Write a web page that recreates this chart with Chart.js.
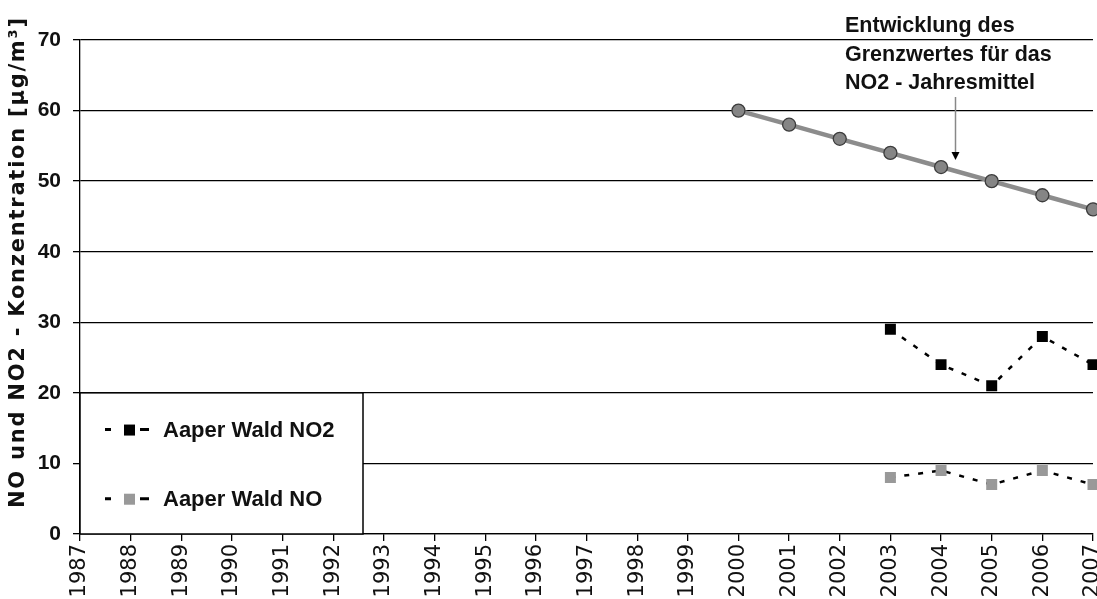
<!DOCTYPE html>
<html><head><meta charset="utf-8">
<script src="https://cdn.jsdelivr.net/npm/chart.js@4.4.1/dist/chart.umd.min.js"></script>
<style>html,body{margin:0;padding:0;background:#fff}#wrap{width:1097px;height:599px}</style>
</head><body><div id="wrap"><canvas id="c" width="1097" height="599"></canvas></div>
<script>
const years = ['1987','1988','1989','1990','1991','1992','1993','1994','1995','1996','1997','1998','1999','2000','2001','2002','2003','2004','2005','2006','2007'];
const limitNO2 = [null,null,null,null,null,null,null,null,null,null,null,null,null,60,58,56,54,52,50,48,46];
const aaperNO2 = [null,null,null,null,null,null,null,null,null,null,null,null,null,null,null,null,29,24,21,28,24];
const aaperNO  = [null,null,null,null,null,null,null,null,null,null,null,null,null,null,null,null,8,9,7,9,7];
const yTicks = [0,10,20,30,40,50,60,70];
const yTitle = 'NO und NO2 - Konzentration [µg/m³]';
const annotation = ['Entwicklung des', 'Grenzwertes für das', 'NO2 - Jahresmittel'];
const FONT = "'Liberation Sans', Arial, sans-serif";
const WIDE = "'DejaVu Sans', sans-serif";

const overlay = {
  id: 'overlay',
  beforeDatasetsDraw(chart) {
    const ctx = chart.ctx, ca = chart.chartArea, y = chart.scales.y;
    const top = y.getPixelForValue(20);
    ctx.save();
    ctx.fillStyle = '#fff';
    ctx.fillRect(ca.left, top, 363 - ca.left, ca.bottom - top);
    ctx.strokeStyle = '#000'; ctx.lineWidth = 1.5;
    ctx.strokeRect(ca.left, top, 363 - ca.left, ca.bottom - top);
    const items = [{label:'Aaper Wald NO2', color:'#000', v:14.8},{label:'Aaper Wald NO', color:'#999', v:5}];
    items.forEach(it => {
      const py = y.getPixelForValue(it.v);
      ctx.strokeStyle = '#000'; ctx.lineWidth = 3;
      ctx.beginPath(); ctx.moveTo(105, py); ctx.lineTo(111, py); ctx.moveTo(140, py); ctx.lineTo(149, py); ctx.stroke();
      ctx.fillStyle = it.color; ctx.fillRect(124, py - 5, 11, 11);
      ctx.fillStyle = '#111'; ctx.font = "bold 22px " + FONT; ctx.textBaseline = 'middle';
      ctx.fillText(it.label, 163, py + 1);
    });
    ctx.restore();
  },
  afterDraw(chart) {
    const ctx = chart.ctx;
    ctx.save();
    ctx.translate(19, 263);
    ctx.rotate(-Math.PI / 2);
    ctx.font = "bold 21px " + WIDE;
    const w0 = ctx.measureText(yTitle).width;
    const ls = Math.max(0, (490 - w0) / (yTitle.length - 1));
    ctx.letterSpacing = ls.toFixed(2) + 'px';
    ctx.fillStyle = '#111'; ctx.textBaseline = 'middle'; ctx.textAlign = 'left';
    ctx.fillText(yTitle, -245, 0);
    ctx.restore();

    ctx.save();
    ctx.fillStyle = '#111'; ctx.font = "bold 21.5px " + FONT; ctx.textBaseline = 'alphabetic';
    ctx.fillText(annotation[0], 845, 32);
    ctx.fillText(annotation[1], 845, 61);
    ctx.fillText(annotation[2], 845, 89);
    ctx.strokeStyle = '#888'; ctx.lineWidth = 1.5;
    ctx.beginPath(); ctx.moveTo(955.5, 97); ctx.lineTo(955.5, 152); ctx.stroke();
    ctx.fillStyle = '#000';
    ctx.beginPath(); ctx.moveTo(951.5, 152); ctx.lineTo(959.5, 152); ctx.lineTo(955.5, 160); ctx.closePath(); ctx.fill();
    ctx.restore();
  }
};

new Chart(document.getElementById('c'), {
  type: 'line',
  data: {
    labels: years,
    datasets: [
      {label:'Grenzwert NO2', data: limitNO2, borderColor:'#8c8c8c', borderWidth:4.5, pointRadius:6.5, pointBackgroundColor:'#858585', pointBorderColor:'#3c3c3c', pointBorderWidth:1.3, tension:0, clip:false},
      {label:'Aaper Wald NO2', data: aaperNO2, borderColor:'#000', borderWidth:2.5, borderDash:[5,9], pointStyle:'rect', pointRadius:6, pointBackgroundColor:'#000', pointBorderColor:'#000', tension:0, clip:false},
      {label:'Aaper Wald NO', data: aaperNO, borderColor:'#000', borderWidth:2.5, borderDash:[5,9], pointStyle:'rect', pointRadius:6, pointBackgroundColor:'#999', pointBorderColor:'#999', tension:0, clip:false}
    ]
  },
  options: {
    responsive:false, animation:false,
    layout:{autoPadding:false, padding:{top:40, right:4, left:0, bottom:0}},
    plugins:{legend:{display:false}, tooltip:{enabled:false}},
    scales:{
      x:{
        offset:false,
        grid:{display:true, drawOnChartArea:false, color:'#000', tickLength:7, lineWidth:1.3},
        border:{color:'#000', width:1.3},
        ticks:{color:'#111', font:{family:WIDE, size:21}, minRotation:90, maxRotation:90, autoSkip:false, padding:3},
        afterFit(s){ s.height = 65; s.paddingLeft = 0; s.paddingRight = 0; }
      },
      y:{
        min:0, max:70,
        afterBuildTicks(s){ s.ticks = yTicks.map(v=>({value:v})); },
        grid:{color:'#000', lineWidth:1.3, tickLength:7},
        border:{color:'#000', width:1.3},
        ticks:{color:'#111', font:{family:FONT, size:21, weight:'bold'}, padding:12},
        title:{display:false},
        afterFit(s){ s.width = 80; s.paddingTop = 0; s.paddingBottom = 0; }
      }
    }
  },
  plugins:[overlay]
});
</script></body></html>
